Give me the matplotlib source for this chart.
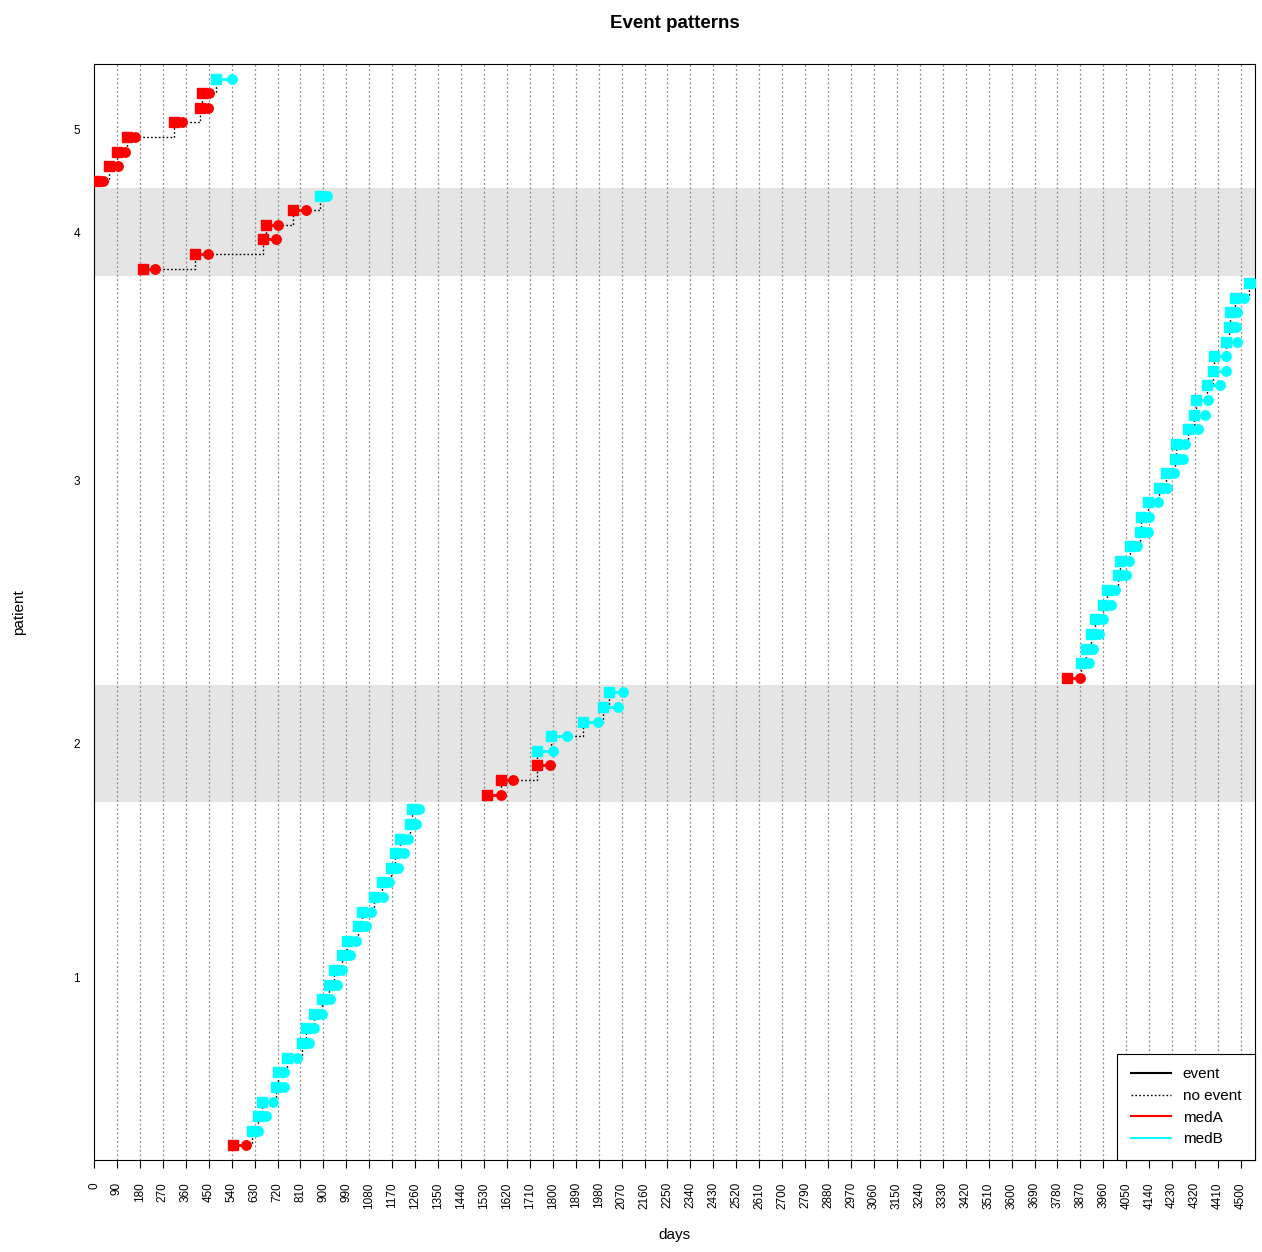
# -*- coding: utf-8 -*-

import numpy as np
import matplotlib
matplotlib.use('Agg')
import matplotlib.pyplot as plt
from matplotlib.lines import Line2D

plt.rcParams['font.family'] = ['Liberation Sans', 'DejaVu Sans']

# episodes per patient: start day, end day, medication
p1_start = [545, 619, 645, 660, 715, 722, 756, 815, 833, 863, 893, 922, 942, 974, 994,
            1037, 1050, 1098, 1131, 1164, 1181, 1199, 1238, 1249]
p1_end = [597, 642, 675, 701, 747, 747, 796, 845, 864, 894, 927, 953, 973, 1006, 1028,
          1067, 1087, 1133, 1158, 1191, 1215, 1230, 1263, 1276]
p1_med = ['medA'] + ['medB'] * 23

p2_start = [1543, 1595, 1739, 1739, 1793, 1917, 1998, 2022]
p2_end = [1597, 1645, 1789, 1799, 1855, 1976, 2057, 2077]
p2_med = ['medA', 'medA', 'medA', 'medB', 'medB', 'medB', 'medB', 'medB']

p3_start = [3818, 3873, 3891, 3910, 3926, 3960, 3973, 4017, 4025, 4064, 4104, 4109, 4135, 4178,
            4204, 4243, 4247, 4292, 4315, 4322, 4365, 4391, 4394, 4440, 4453, 4457, 4475, 4531]
p3_end = [3868, 3902, 3920, 3944, 3957, 3990, 4007, 4049, 4059, 4094, 4134, 4140, 4173, 4209,
          4238, 4273, 4281, 4330, 4360, 4369, 4417, 4441, 4443, 4486, 4480, 4486, 4513, 4545]
p3_med = ['medA'] + ['medB'] * 27

p4_start = [191, 397, 662, 675, 782, 887]
p4_end = [239, 446, 714, 723, 832, 915]
p4_med = ['medA'] * 5 + ['medB']

p5_start = [8, 60, 91, 128, 314, 416, 422, 479]
p5_end = [35, 95, 122, 161, 344, 448, 452, 540]
p5_med = ['medA'] * 7 + ['medB']

patients = ['1', '2', '3', '4', '5']
starts = [p1_start, p2_start, p3_start, p4_start, p5_start]
ends = [p1_end, p2_end, p3_end, p4_end, p5_end]
meds = [p1_med, p2_med, p3_med, p4_med, p5_med]

colors = {'medA': '#ff0000', 'medB': '#00ffff'}
xticks = np.arange(0, 4501, 90)

fig = plt.figure(figsize=(12.62, 12.52), dpi=100)
ax = fig.add_axes([94 / 1262, 1 - 1160 / 1252, (1255 - 94) / 1262, (1160 - 64) / 1252])

n_total = sum(len(s) for s in starts)
ax.set_xlim(0, 4555)
ax.set_ylim(0, n_total + 1)

# vertical grid
for xt in xticks[1:]:
    ax.axvline(xt, color='#8c8c8c', linestyle=(0, (1.5, 2)), linewidth=0.9, zorder=1)

ytick_pos = []
idx = 1
for k in range(len(patients)):
    n = len(starts[k])
    ys = np.arange(idx, idx + n)
    ytick_pos.append((ys[0] + ys[-1]) / 2)
    if k % 2 == 1:
        ax.axhspan(ys[0] - 0.5, ys[-1] + 0.5, color='#e5e5e5', zorder=0, linewidth=0)
    # no-event connectors
    for i in range(n - 1):
        ax.plot([ends[k][i], starts[k][i + 1], starts[k][i + 1]], [ys[i], ys[i], ys[i + 1]],
                color='black', linestyle=(0, (1.2, 1.6)), linewidth=1.0, zorder=2)
    # episodes
    for i in range(n):
        c = colors[meds[k][i]]
        ax.plot([starts[k][i], ends[k][i]], [ys[i], ys[i]], color=c, linewidth=2, zorder=3)
        ax.plot(starts[k][i], ys[i], marker='s', color=c, markersize=6.8, zorder=4)
        ax.plot(ends[k][i], ys[i], marker='o', color=c, markersize=6.8, zorder=4)
    idx += n

ax.set_xticks(xticks)
ax.set_xticklabels([str(v) for v in xticks], rotation=90, fontsize=8.5)
ax.set_yticks(ytick_pos)
ax.set_yticklabels(patients, fontsize=8.5)
ax.tick_params(axis='x', length=6, pad=10)
ax.tick_params(axis='y', length=0, pad=10)

ax.set_xlabel('days', fontsize=11, labelpad=14)
ax.set_ylabel('patient', fontsize=11, labelpad=34)
ax.set_title('Event patterns', fontsize=13.5, fontweight='bold', pad=26)

handles = [Line2D([], [], color='black', linewidth=1.5),
           Line2D([], [], color='black', linestyle=(0, (1.2, 1.6)), linewidth=1.0),
           Line2D([], [], color='#ff0000', linewidth=1.5),
           Line2D([], [], color='#00ffff', linewidth=1.5)]
leg = ax.legend(handles, ['event', 'no event', 'medA', 'medB'], loc='lower right',
                borderaxespad=0, fancybox=False, framealpha=1, edgecolor='black',
                fontsize=11, handlelength=2.6, labelspacing=0.5, borderpad=0.9)
leg.get_frame().set_linewidth(0.8)

fig.savefig('out.png', dpi=100)
